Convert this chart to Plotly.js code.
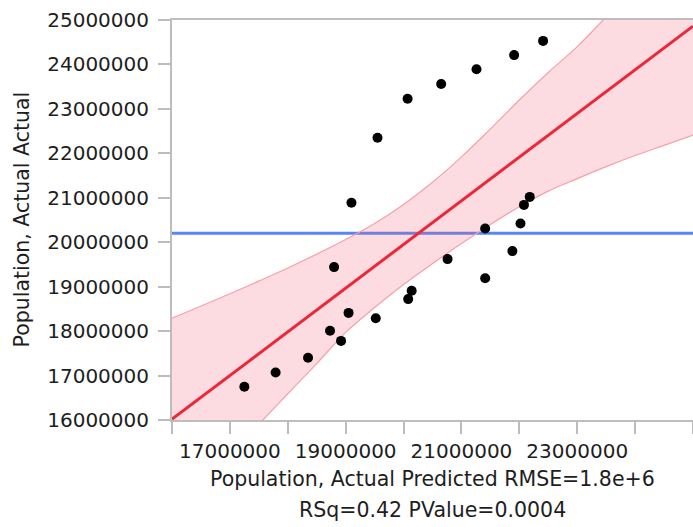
<!DOCTYPE html>
<html>
<head>
<meta charset="utf-8">
<script src="https://cdn.plot.ly/plotly-3.0.1.min.js"></script>
<style>
  html, body { margin: 0; padding: 0; background: #ffffff; }
  #chart { width: 693px; height: 527px; }
</style>
</head>
<body>
<div id="chart"></div>
<script>
// Predicted vs actual population
const predicted = [22410000, 21910000, 21260000, 20650000, 20070000, 19550000, 19100000,
                   22180000, 22080000, 22020000, 21410000, 21880000, 20760000, 21410000,
                   18800000, 20140000, 20080000, 19050000, 19520000, 18730000, 18920000,
                   18350000, 17790000, 17250000];
const actual    = [24530000, 24210000, 23890000, 23560000, 23230000, 22350000, 20890000,
                   21020000, 20840000, 20420000, 20310000, 19800000, 19620000, 19190000,
                   19440000, 18910000, 18720000, 18410000, 18290000, 18010000, 17780000,
                   17400000, 17070000, 16750000];

// Fit line (read at the two plot edges)
const fitX = [16000000, 25000000];
const fitY = [16020000, 24860000];

// Mean of actual (horizontal reference line)
const meanX = [16000000, 25000000];
const meanY = [20200000, 20200000];

// Confidence band edges
const bandUpperX = [16000000, 17000000, 18000000, 19000000, 19500000, 20000000, 20500000, 21000000,
                    21500000, 22000000, 22500000, 23000000, 23500000, 24000000, 25000000];
const bandUpperY = [18290000, 18840000, 19420000, 20060000, 20420000, 20850000, 21350000, 21920000,
                    22550000, 23200000, 23820000, 24400000, 25070000, 25750000, 27100000];
const bandLowerX = [16000000, 17000000, 17570000, 18000000, 18500000, 19000000, 19500000, 20000000,
                    20500000, 21000000, 21500000, 22000000, 22500000, 23000000, 23500000, 24000000,
                    24500000, 25000000];
const bandLowerY = [13740000, 15200000, 16000000, 16590000, 17270000, 17970000, 18530000, 19050000,
                    19520000, 19970000, 20400000, 20800000, 21150000, 21430000, 21700000, 21950000,
                    22180000, 22410000];

// Axis ticks
const xTickVals = [16000000, 17000000, 18000000, 19000000, 20000000, 21000000, 22000000, 23000000, 24000000, 25000000];
const xTickText = ['', '17000000', '', '19000000', '', '21000000', '', '23000000', '', ''];
const yTickVals = [16000000, 17000000, 18000000, 19000000, 20000000, 21000000, 22000000, 23000000, 24000000, 25000000];
const yTickText = ['16000000', '17000000', '18000000', '19000000', '20000000', '21000000', '22000000', '23000000', '24000000', '25000000'];

// Titles
const xTitleLine1 = 'Population, Actual Predicted RMSE=1.8e+6';
const xTitleLine2 = 'RSq=0.42 PValue=0.0004';
const yTitle = 'Population, Actual Actual';

const bandPolyX = bandUpperX.concat(bandLowerX.slice().reverse());
const bandPolyY = bandUpperY.concat(bandLowerY.slice().reverse());

const traces = [
  { x: meanX, y: meanY, mode: 'lines', type: 'scatter', hoverinfo: 'skip',
    line: { color: 'rgb(85,135,245)', width: 3 } },
  { x: bandPolyX, y: bandPolyY, mode: 'lines', type: 'scatter', fill: 'toself',
    fillcolor: 'rgba(240,95,115,0.22)', line: { width: 0, color: 'rgba(0,0,0,0)' }, hoverinfo: 'skip' },
  { x: bandUpperX, y: bandUpperY, mode: 'lines', type: 'scatter', hoverinfo: 'skip',
    line: { color: 'rgb(246,160,170)', width: 1.2, shape: 'spline' } },
  { x: bandLowerX, y: bandLowerY, mode: 'lines', type: 'scatter', hoverinfo: 'skip',
    line: { color: 'rgb(246,160,170)', width: 1.2, shape: 'spline' } },
  { x: fitX, y: fitY, mode: 'lines', type: 'scatter', hoverinfo: 'skip',
    line: { color: 'rgb(236,40,56)', width: 3 } },
  { x: predicted, y: actual, mode: 'markers', type: 'scatter',
    marker: { color: '#000000', size: 10 } }
];

const axisColor = '#bdbdbd';
const fontFam = '"DejaVu Sans", sans-serif';
const textColor = '#1e1e1e';
const titleFont = { family: fontFam, size: 20.5, color: textColor };

const layout = {
  width: 693, height: 527,
  margin: { l: 172, r: 0, t: 20, b: 107, pad: 0 },
  paper_bgcolor: '#ffffff', plot_bgcolor: '#ffffff',
  showlegend: false,
  font: { family: fontFam, size: 20, color: textColor },
  xaxis: {
    range: [16000000, 25000000], showgrid: false, zeroline: false, automargin: false,
    tickmode: 'array', tickvals: xTickVals, ticktext: xTickText,
    ticks: 'outside', ticklen: 12, tickwidth: 2, tickcolor: axisColor,
    showline: true, linecolor: axisColor, linewidth: 2, mirror: true,
    tickfont: { family: fontFam, size: 20, color: textColor }
  },
  yaxis: {
    range: [16000000, 25000000], showgrid: false, zeroline: false, automargin: false,
    tickmode: 'array', tickvals: yTickVals, ticktext: yTickText,
    ticks: 'outside', ticklen: 12, tickwidth: 2, tickcolor: axisColor,
    ticklabelstandoff: 5,
    showline: true, linecolor: axisColor, linewidth: 2, mirror: false,
    tickfont: { family: fontFam, size: 20, color: textColor }
  },
  annotations: [
    { text: xTitleLine1, xref: 'paper', yref: 'paper', x: 0.5, y: -0.1475,
      xanchor: 'center', yanchor: 'middle', showarrow: false, font: titleFont },
    { text: xTitleLine2, xref: 'paper', yref: 'paper', x: 0.5, y: -0.225,
      xanchor: 'center', yanchor: 'middle', showarrow: false, font: titleFont },
    { text: yTitle, xref: 'paper', yref: 'paper', x: -0.287, y: 0.5025, textangle: -90,
      xanchor: 'center', yanchor: 'middle', showarrow: false, font: titleFont }
  ]
};

Plotly.newPlot('chart', traces, layout, { staticPlot: true, displayModeBar: false });
</script>
</body>
</html>
